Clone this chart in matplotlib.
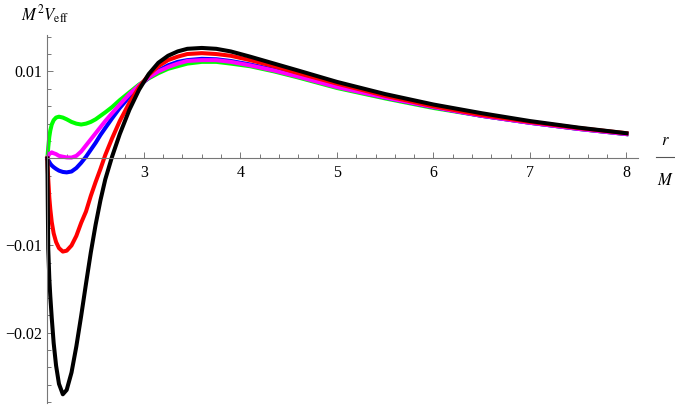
import matplotlib
matplotlib.use("Agg")
import matplotlib.pyplot as plt
from matplotlib.lines import Line2D

# r/M sample points shared by all curves
r = [2.0, 2.004, 2.009, 2.02, 2.03, 2.045, 2.065, 2.09, 2.12, 2.16, 2.2, 2.25,
     2.3, 2.35, 2.4, 2.45, 2.5, 2.55, 2.6, 2.67, 2.75, 2.85, 2.95, 3.05, 3.15,
     3.25, 3.35, 3.45, 3.6, 3.75, 3.9, 4.1, 4.35, 4.6, 5.0, 5.5, 6.0, 6.5, 7.0,
     7.5, 8.0]

v_green = [0, 0.0006, 0.0013, 0.0025, 0.0032, 0.0039, 0.0044, 0.0047, 0.0048,
           0.0047, 0.0045, 0.0042, 0.0040, 0.0039, 0.0040, 0.0042, 0.0045,
           0.0049, 0.0053, 0.0059, 0.0067, 0.0076, 0.0085, 0.0092, 0.0098,
           0.0103, 0.0106, 0.0109, 0.0111, 0.0111, 0.0109, 0.0106, 0.0100,
           0.0093, 0.0081, 0.0069, 0.0058, 0.0049, 0.0041, 0.0034, 0.0028]

v_blue = [0, -0.0001, -0.0002, -0.0004, -0.0006, -0.0008, -0.0010, -0.0012,
          -0.0014, -0.00155, -0.0016, -0.0015, -0.0011, -0.0005, 0.0002,
          0.0010, 0.0018, 0.0027, 0.0035, 0.0046, 0.0058, 0.0071, 0.0083,
          0.0093, 0.0101, 0.0107, 0.0111, 0.0113, 0.01145, 0.0114, 0.0112,
          0.0108, 0.0102, 0.0095, 0.0083, 0.0070, 0.0059, 0.0049, 0.0041,
          0.0034, 0.0028]

v_magenta = [0, 0.0001, 0.0003, 0.0005, 0.0006, 0.0007, 0.0006, 0.0005,
             0.0003, 0.0002, 0.00012, 0.0001, 0.0003, 0.0008, 0.0015, 0.0022,
             0.0029, 0.0036, 0.0043, 0.0052, 0.0062, 0.0074, 0.0084, 0.0093,
             0.0100, 0.0105, 0.0109, 0.0112, 0.0113, 0.0113, 0.0111, 0.0107,
             0.0101, 0.0094, 0.0082, 0.0070, 0.0059, 0.0049, 0.0041, 0.0034,
             0.0028]

v_red = [0, -0.0012, -0.0024, -0.0045, -0.0058, -0.0073, -0.0086, -0.0096,
         -0.0103, -0.0107, -0.0106, -0.0100, -0.0089, -0.0074, -0.0061,
         -0.0043, -0.0027, -0.0012, 0.0004, 0.0023, 0.0043, 0.0064, 0.0082,
         0.0096, 0.0106, 0.0113, 0.0117, 0.0120, 0.0121, 0.0120, 0.0118,
         0.0113, 0.0106, 0.0098, 0.0086, 0.0072, 0.0060, 0.0050, 0.0042,
         0.0035, 0.0029]

v_black = [0, -0.0050, -0.0104, -0.0138, -0.0158, -0.0183, -0.0212, -0.0238,
           -0.0259, -0.0271, -0.0266, -0.0246, -0.0216, -0.0181, -0.0144,
           -0.0108, -0.0076, -0.0048, -0.0024, 0.0002, 0.0028, 0.0056, 0.0079,
           0.0097, 0.0110, 0.0118, 0.0123, 0.0126, 0.0127, 0.0126, 0.0123,
           0.0117, 0.0109, 0.0101, 0.0088, 0.0074, 0.0062, 0.0052, 0.0043,
           0.00355, 0.0029]

xticks = [3, 4, 5, 6, 7, 8]
xtick_labels = ["3", "4", "5", "6", "7", "8"]
yticks = [-0.02, -0.01, 0.01]
ytick_labels = ["\u22120.02", "\u22120.01", "0.01"]

plt.rcParams['mathtext.fontset'] = 'stix'
plt.rcParams['font.family'] = ['Liberation Serif', 'DejaVu Serif']

fig = plt.figure(figsize=(6.75, 4.09), dpi=100)
ax = fig.add_axes([0.0702, 0.0147, 0.875, 0.900])

curves = [(v_green, (0, 1, 0)), (v_blue, (0, 0, 1)), (v_magenta, (1, 0, 1)),
          (v_red, (1, 0, 0)), (v_black, (0, 0, 0))]
for v, c in curves:
    ax.plot(r, v, color=c, lw=2.9, solid_joinstyle='round', clip_on=False)

ax.set_xlim(2, 8.12)
ax.set_ylim(-0.0281, 0.0142)

axcol = '#777777'
for s in ['top', 'right']:
    ax.spines[s].set_visible(False)
ax.spines['bottom'].set_position(('data', 0))
ax.spines['left'].set_position(('data', 2))
ax.spines['bottom'].set_color(axcol)
ax.spines['left'].set_color(axcol)
ax.spines['bottom'].set_linewidth(0.8)
ax.spines['left'].set_linewidth(0.8)

ax.set_xticks(xticks, xtick_labels)
ax.set_yticks(yticks, ytick_labels)
ax.set_xticks([2.2 + 0.2 * i for i in range(30) if round((2.2 + 0.2 * i) % 1, 3) not in (0, 1)], minor=True)
ax.set_yticks([-0.028 + 0.002 * i for i in range(22)], minor=True)
ax.tick_params(which='both', direction='in', color=axcol, width=0.7,
               labelsize=11.5, labelcolor='black')
ax.tick_params(which='major', length=4.5)
ax.tick_params(which='minor', length=2.6)
ax.tick_params(axis='x', pad=5)
ax.tick_params(axis='y', pad=4)

fig.text(45 / 675, 1 - 15 / 409, r'$M^2V_{\rm eff}$', ha='center', va='center', fontsize=12)
fig.text(665 / 675, 1 - 141 / 409, r'$r$', ha='center', va='center', fontsize=12)
fig.text(665 / 675, 1 - 181 / 409, r'$M$', ha='center', va='center', fontsize=12)
fig.add_artist(Line2D([656 / 675, 674 / 675], [1 - 156.7 / 409] * 2,
                      transform=fig.transFigure, color='#555555', lw=0.8))

fig.savefig('out.png', dpi=100)
